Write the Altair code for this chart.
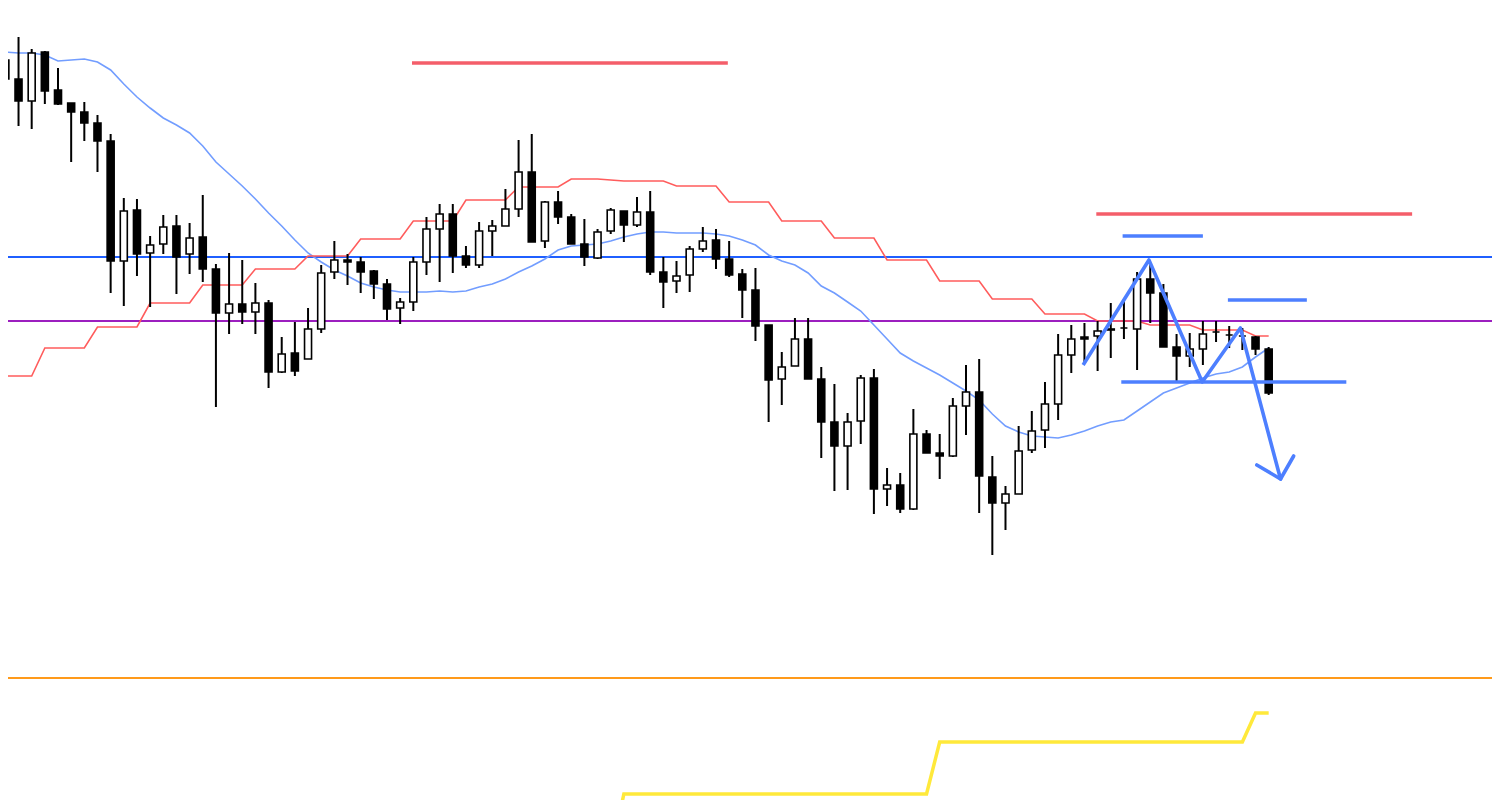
import altair as alt
import pandas as pd

# ---- candle data (price units) ----
opens = [940, 921, 899, 948, 910, 897, 888, 877, 859, 739,
         790, 747, 756, 774, 746, 763, 731, 687, 696, 688,
         697, 628, 647, 641, 671, 728, 740, 738, 729, 716,
         692, 698, 738, 771, 786, 744, 735, 769, 774, 791,
         828, 759, 798, 783, 756, 742, 769, 789, 775, 788,
         728, 719, 725, 751, 760, 741, 726, 710, 675, 621,
         634, 661, 621, 578, 554, 579, 622, 511, 515, 491,
         566, 547, 544, 594, 608, 523, 497, 506, 550, 570,
         596, 645, 663, 664, 670, 672, 671, 721, 707, 653,
         644, 651, 668, 665, 664, 663, 651]
highs = [945, 963, 951, 949, 932, 897, 898, 885, 866, 802,
         801, 764, 785, 785, 777, 805, 736, 747, 740, 717,
         700, 663, 678, 692, 735, 759, 746, 743, 730, 721,
         702, 743, 783, 796, 796, 754, 778, 780, 811, 860,
         866, 799, 809, 786, 781, 771, 792, 789, 803, 809,
         743, 739, 754, 773, 771, 759, 731, 732, 675, 648,
         682, 682, 633, 616, 587, 625, 631, 532, 527, 591,
         570, 566, 602, 635, 641, 544, 514, 574, 589, 618,
         666, 675, 677, 679, 697, 701, 728, 735, 716, 666,
         667, 679, 679, 674, 672, 664, 653]
lows = [868, 874, 871, 896, 895, 838, 859, 828, 707, 694,
        724, 693, 746, 706, 726, 718, 593, 666, 676, 666,
        612, 627, 624, 641, 667, 721, 715, 707, 701, 680,
        676, 689, 725, 718, 727, 732, 732, 744, 774, 783,
        758, 752, 776, 756, 734, 741, 766, 758, 773, 725,
        692, 707, 708, 748, 731, 723, 682, 659, 578, 595,
        634, 621, 542, 509, 510, 556, 486, 494, 487, 490,
        547, 521, 543, 565, 487, 445, 470, 506, 547, 552,
        580, 627, 637, 629, 642, 661, 630, 677, 653, 618,
        633, 635, 658, 652, 650, 645, 605]
closes = [921, 899, 947, 909, 896, 888, 877, 859, 739, 789,
          746, 755, 773, 743, 762, 731, 687, 696, 688, 697,
          628, 646, 629, 671, 727, 740, 738, 728, 716, 691,
          698, 738, 771, 786, 744, 735, 769, 774, 791, 828,
          758, 798, 783, 756, 743, 768, 790, 775, 788, 728,
          718, 724, 751, 759, 741, 725, 710, 674, 620, 633,
          661, 621, 578, 554, 578, 622, 511, 515, 491, 566,
          547, 544, 594, 608, 524, 497, 506, 549, 569, 596,
          645, 661, 661, 669, 671, 672, 721, 707, 653, 644,
          651, 666, 668, 665, 664, 651, 607]

# ---- indicators ----
ma = [948, 947, 947, 945, 939, 940, 941, 938, 930, 916,
      903, 892, 882, 875, 867, 854, 838, 826, 814, 801,
      787, 774, 760, 747, 738, 730, 724, 717, 713, 710,
      708, 708, 708, 709, 708, 709, 713, 716, 721, 728,
      734, 741, 750, 754, 755, 756, 759, 763, 766, 768,
      768, 767, 767, 767, 766, 764, 760, 755, 745, 739,
      735, 727, 714, 707, 698, 689, 675, 661, 647, 639,
      632, 625, 617, 609, 600, 586, 574, 568, 564, 563,
      562, 565, 569, 574, 578, 580, 589, 598, 607, 612,
      617, 622, 626, 628, 633, 643, 652]
red_step = [624, 624, 624, 652, 652, 652, 652, 673, 673, 673,
            673, 697, 697, 697, 697, 715, 715, 715, 715, 731,
            731, 731, 731, 744, 744, 744, 744, 761, 761, 761,
            761, 779, 779, 779, 779, 800, 800, 800, 800, 813,
            813, 813, 813, 821, 821, 821, 820, 819, 819, 819,
            819, 814, 814, 814, 814, 798, 798, 798, 798, 779,
            779, 779, 779, 762, 762, 762, 762, 740, 740, 740,
            740, 719, 719, 719, 719, 701, 701, 701, 701, 686,
            686, 686, 686, 679, 679, 679, 679, 675, 675, 675,
            675, 670, 670, 670, 670, 664, 664]
yellow_start = 46
yellow_step = [145,
               206, 206, 206, 206, 206, 206, 206, 206, 206, 206, 206, 206,
               206, 206, 206, 206, 206, 206, 206, 206, 206, 206, 206, 206,
               258, 258, 258, 258, 258, 258, 258, 258, 258, 258, 258, 258,
               258, 258, 258, 258, 258, 258, 258, 258, 258, 258, 258, 258,
               287, 287]

# ---- horizontal levels ----
levels = [743, 679, 322]
level_colors = ["#1f5fff", "#9c1fbf", "#ff9a1a"]

# ---- drawn segments (x in bar index, y in price) ----
seg_x = [30.9, 82.9, 84.9, 92.9, 84.8]
seg_x2 = [54.9, 106.9, 91.0, 98.9, 101.9]
seg_y = [937, 786, 764, 700, 618]
seg_colors = ["#f45e6a", "#f45e6a", "#4d7fff", "#4d7fff", "#4d7fff"]

zig_x = [81.9, 86.9, 90.95, 93.85, 96.9]
zig_y = [635, 740, 618, 672, 521]
arrow_x = [95.1, 97.9]
arrow_y = [535, 544]

n = len(opens)
df = pd.DataFrame({
    "i": list(range(n)), "open": opens, "high": highs, "low": lows,
    "close": closes, "ma": ma, "red": red_step,
})
df["dir"] = ["up" if c >= o else "down" for o, c in zip(opens, closes)]

ydf = pd.DataFrame({"i": list(range(yellow_start, yellow_start + len(yellow_step))),
                    "v": yellow_step})
ldf = pd.DataFrame({"level": levels, "c": level_colors})
sdf = pd.DataFrame({"x": seg_x, "x2": seg_x2, "y": seg_y, "c": seg_colors})
zdf = pd.DataFrame({"x": zig_x, "y": zig_y, "o": list(range(len(zig_x)))})
adf = pd.DataFrame({"x": [zig_x[-1]] * 2, "y": [zig_y[-1]] * 2, "x2": arrow_x, "y2": arrow_y})

xs = alt.Scale(domain=[0.2, 112.97], nice=False, zero=False, padding=0)
ys = alt.Scale(domain=[200, 992], nice=False, zero=False, padding=0)

hlines = alt.Chart(ldf).mark_rule(strokeWidth=2).encode(
    y=alt.Y("level:Q", scale=ys, axis=None),
    color=alt.Color("c:N", scale=None),
)

ma_line = alt.Chart(df).mark_line(color="#729dff", strokeWidth=1.6).encode(
    x=alt.X("i:Q", scale=xs, axis=None),
    y=alt.Y("ma:Q", scale=ys, axis=None),
)
red_line = alt.Chart(df).mark_line(color="#ff5c5c", strokeWidth=1.6).encode(
    x=alt.X("i:Q", scale=xs, axis=None),
    y=alt.Y("red:Q", scale=ys, axis=None),
)
yellow_line = alt.Chart(ydf).mark_line(color="#ffe93b", strokeWidth=3.5).encode(
    x=alt.X("i:Q", scale=xs, axis=None),
    y=alt.Y("v:Q", scale=ys, axis=None),
)

wicks = alt.Chart(df).mark_rule(color="black", strokeWidth=2).encode(
    x=alt.X("i:Q", scale=xs, axis=None),
    y=alt.Y("low:Q", scale=ys, axis=None),
    y2="high:Q",
)
bodies = alt.Chart(df).mark_bar(size=7, stroke="black", strokeWidth=1.6).encode(
    x=alt.X("i:Q", scale=xs, axis=None),
    y=alt.Y("open:Q", scale=ys, axis=None),
    y2="close:Q",
    color=alt.Color("dir:N", scale=alt.Scale(domain=["up", "down"], range=["white", "black"]), legend=None),
)

segs = alt.Chart(sdf).mark_rule(strokeWidth=3.6).encode(
    x=alt.X("x:Q", scale=xs, axis=None),
    x2="x2:Q",
    y=alt.Y("y:Q", scale=ys, axis=None),
    color=alt.Color("c:N", scale=None),
)
zig = alt.Chart(zdf).mark_line(color="#4d7fff", strokeWidth=3.6, strokeJoin="round").encode(
    x=alt.X("x:Q", scale=xs, axis=None),
    y=alt.Y("y:Q", scale=ys, axis=None),
    order="o:Q",
)
arrow = alt.Chart(adf).mark_rule(color="#4d7fff", strokeWidth=3.6, strokeCap="round").encode(
    x=alt.X("x:Q", scale=xs, axis=None),
    x2="x2:Q",
    y=alt.Y("y:Q", scale=ys, axis=None),
    y2="y2:Q",
)

chart = alt.layer(
    hlines, ma_line, red_line, yellow_line, wicks, bodies, segs, zig, arrow
).properties(
    width=1484, height=792,
    autosize=alt.AutoSizeParams(type="none"),
    padding=0,
    background="white",
).configure_view(stroke=None)

chart.save("out.html", embed_options={"renderer": "svg", "actions": False})
